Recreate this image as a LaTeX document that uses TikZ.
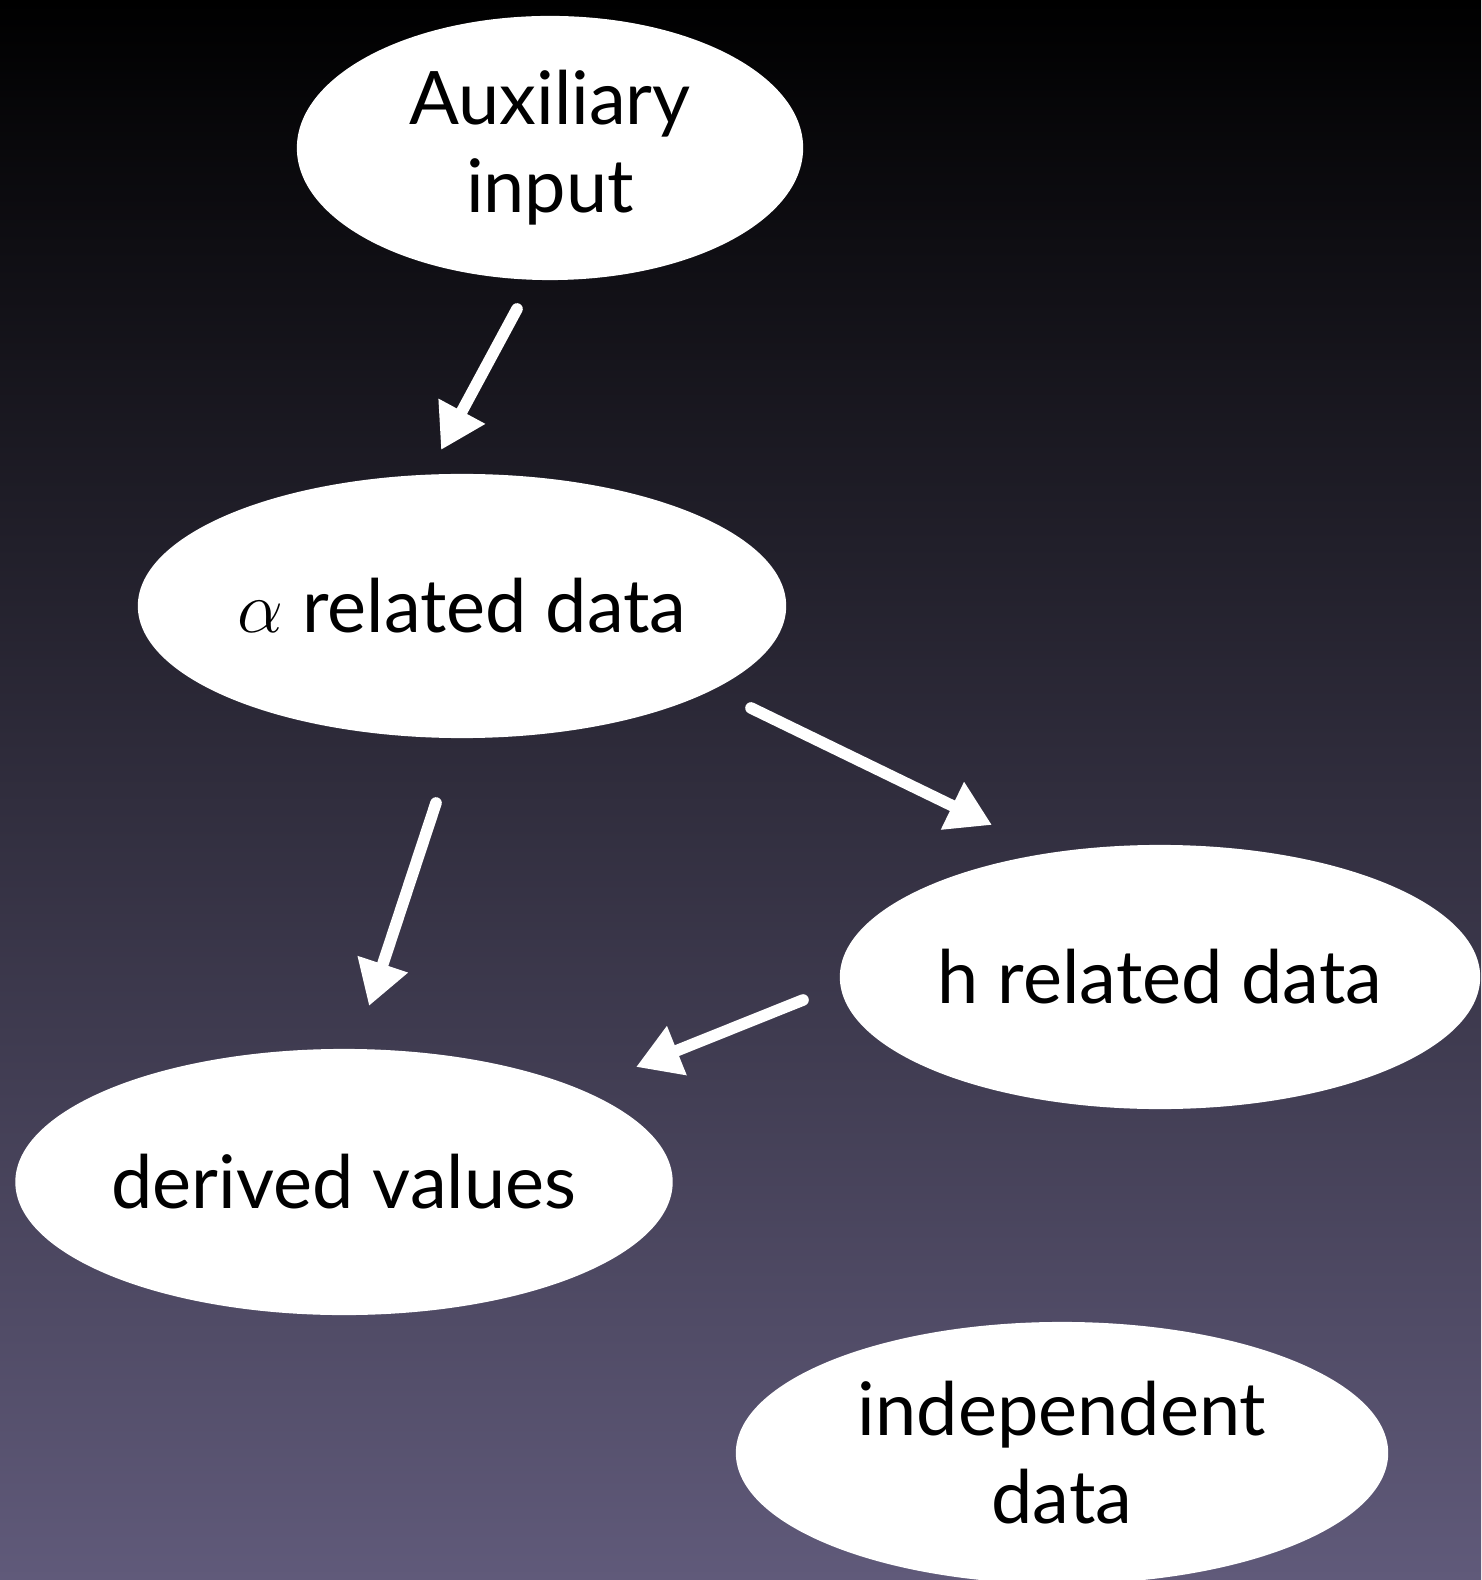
\documentclass[tikz,border=0pt]{standalone}
\usepackage{fontspec}
\setmainfont{Lato}
\usetikzlibrary{shapes.geometric,arrows.meta}

\definecolor{bgtop}{RGB}{0,0,0}
\definecolor{bgmid}{RGB}{38,32,88}
\definecolor{bgbot}{RGB}{96,90,122}

\tikzset{
  bubble/.style={ellipse,fill=white,inner sep=0pt,align=center,
    font=\fontsize{21}{25}\selectfont,text=black},
  flow/.style={white,line width=3.3pt,-{Triangle[length=0.44cm,width=0.5cm]}}
}

\begin{document}
\begin{tikzpicture}[x=0.01cm,y=-0.01cm,line cap=round,line join=round]
  \shade[top color=bgtop,middle color=bgmid,bottom color=bgbot] (0,0) rectangle (1481,1580);
  \useasboundingbox (0,0) rectangle (1481,1580);
  \node[bubble,minimum width=5.06cm,minimum height=2.64cm] (aux) at (550,148) {Auxiliary\\input};
  \node[bubble,minimum width=6.48cm,minimum height=2.64cm] (alpha) at (462,606) {$\alpha$ related data};
  \node[bubble,minimum width=6.40cm,minimum height=2.64cm] (h) at (1160,977) {h related data};
  \node[bubble,minimum width=6.52cm,minimum height=2.66cm] (der) at (344,1182) {derived values};
  \node[bubble,minimum width=6.52cm,minimum height=2.62cm] (ind) at (1062,1453) {independent\\data};
  % arrow ends, kept clear of the bubbles
  \coordinate (a1) at (517,309);
  \coordinate (b1) at (441,450);
  \coordinate (a2) at (751,708);
  \coordinate (b2) at (992,825);
  \coordinate (a3) at (436,803);
  \coordinate (b3) at (369,1006);
  \coordinate (a4) at (803,1000);
  \coordinate (b4) at (636,1067);
  \draw[flow] (a1) -- (b1);
  \draw[flow] (a2) -- (b2);
  \draw[flow] (a3) -- (b3);
  \draw[flow] (a4) -- (b4);
\end{tikzpicture}
\end{document}
